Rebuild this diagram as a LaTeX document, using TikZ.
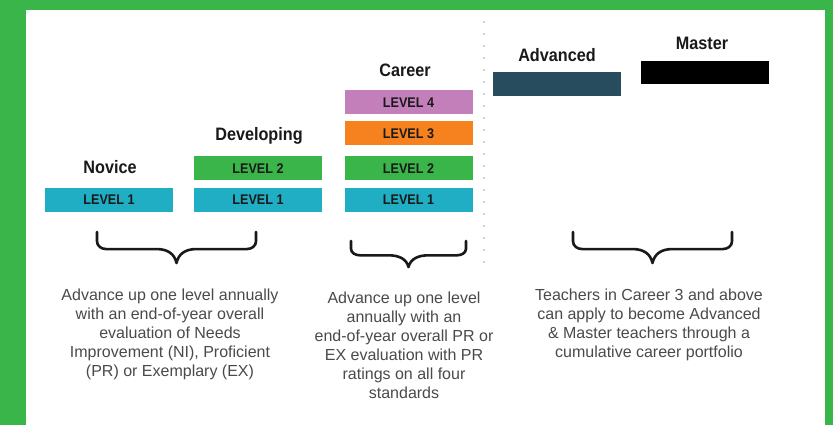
\documentclass[tikz,border=0pt]{standalone}
\usepackage{fontspec}
\setmainfont{Liberation Sans}
\newfontfamily\condfont[FakeStretch=0.9]{Liberation Sans}

\definecolor{framegreen}{HTML}{3AB54A}
\definecolor{levelcyan}{HTML}{1FAEC3}
\definecolor{levelgreen}{HTML}{3AB54A}
\definecolor{levelorange}{HTML}{F5821F}
\definecolor{levelpurple}{HTML}{C37FBA}
\definecolor{advblue}{HTML}{264C5E}
\definecolor{notegray}{HTML}{4A4A4A}

\begin{document}
\begin{tikzpicture}[
  x=1pt,
  y=-1pt,
  line join=round,
  line cap=round,
  levelbox/.style={minimum width=128pt,minimum height=24pt,inner sep=0pt,
    font=\condfont\bfseries\fontsize{14}{15}\selectfont,text=black!90},
  title/.style={anchor=base,inner sep=0pt,
    font=\condfont\bfseries\fontsize{18}{20}\selectfont,text=black!90},
  note/.style={anchor=north,inner sep=0pt,align=center,text=notegray,
    font=\fontsize{16}{19}\selectfont},
  curlyline/.style={draw=black!90,line width=2.6pt},
  pics/curly/.style n args={2}{code={
    \draw[curlyline] (-#1,0) -- (-#1,0.3*#2)
      to[out=-90,in=180] (-#1+9,0.55*#2) -- (-20,0.55*#2)
      .. controls (-9,0.55*#2) and (-2,0.7*#2) .. (0,#2)
      .. controls (2,0.7*#2) and (9,0.55*#2) .. (20,0.55*#2)
      -- (#1-9,0.55*#2) to[out=0,in=-90] (#1,0.3*#2) -- (#1,0);
  }}
]
  % Frame and page.
  \fill[framegreen] (0,0) rectangle (833,425);
  \fill[white] (26,10) rectangle (825,425);
  \useasboundingbox (0,0) rectangle (833,425);

  % Separator between Career and Advanced/Master.
  \draw[black!35,line width=1.8pt,dash pattern=on 0pt off 12pt] (484,22) -- (484,272);

  % Level boxes.
  \node[levelbox,fill=levelcyan] (nov1) at (109,200) {LEVEL 1};
  \node[levelbox,fill=levelcyan] (dev1) at (258,200) {LEVEL 1};
  \node[levelbox,fill=levelgreen] (dev2) at (258,168.5) {LEVEL 2};
  \node[levelbox,fill=levelcyan] (car1) at (408.5,200) {LEVEL 1};
  \node[levelbox,fill=levelgreen] (car2) at (408.5,168.5) {LEVEL 2};
  \node[levelbox,fill=levelorange] (car3) at (408.5,133.5) {LEVEL 3};
  \node[levelbox,fill=levelpurple] (car4) at (408.5,102.5) {LEVEL 4};
  \node[levelbox,fill=advblue] (adv) at (557,84) {};
  \node[levelbox,fill=black,minimum height=23pt] (mas) at (705,72.5) {};

  % Stage titles.
  \node[title] (tnov) at (110,174) {Novice};
  \node[title] (tdev) at (259,141) {Developing};
  \node[title] (tcar) at (405,77) {Career};
  \node[title] (tadv) at (557,62) {Advanced};
  \node[title] (tmas) at (702,50) {Master};

  % Braces.
  \pic (bnd) at (176.5,232) {curly={79.5}{31}};
  \pic (bcar) at (408.5,241) {curly={57.5}{26}};
  \pic (bam) at (652.5,232) {curly={79.5}{31}};

  % Notes.
  \node[note] (n1) at (170,289) {Advance up one level annually\\with an end-of-year overall\\evaluation of Needs\\Improvement (NI), Proficient\\(PR) or Exemplary (EX)};
  \node[note] (n2) at (404,292) {Advance up one level\\annually with an\\end-of-year overall PR or\\EX evaluation with PR\\ratings on all four\\standards};
  \node[note] (n3) at (649,289) {Teachers in Career 3 and above\\can apply to become Advanced\\\& Master teachers through a\\cumulative career portfolio};
\end{tikzpicture}
\end{document}
